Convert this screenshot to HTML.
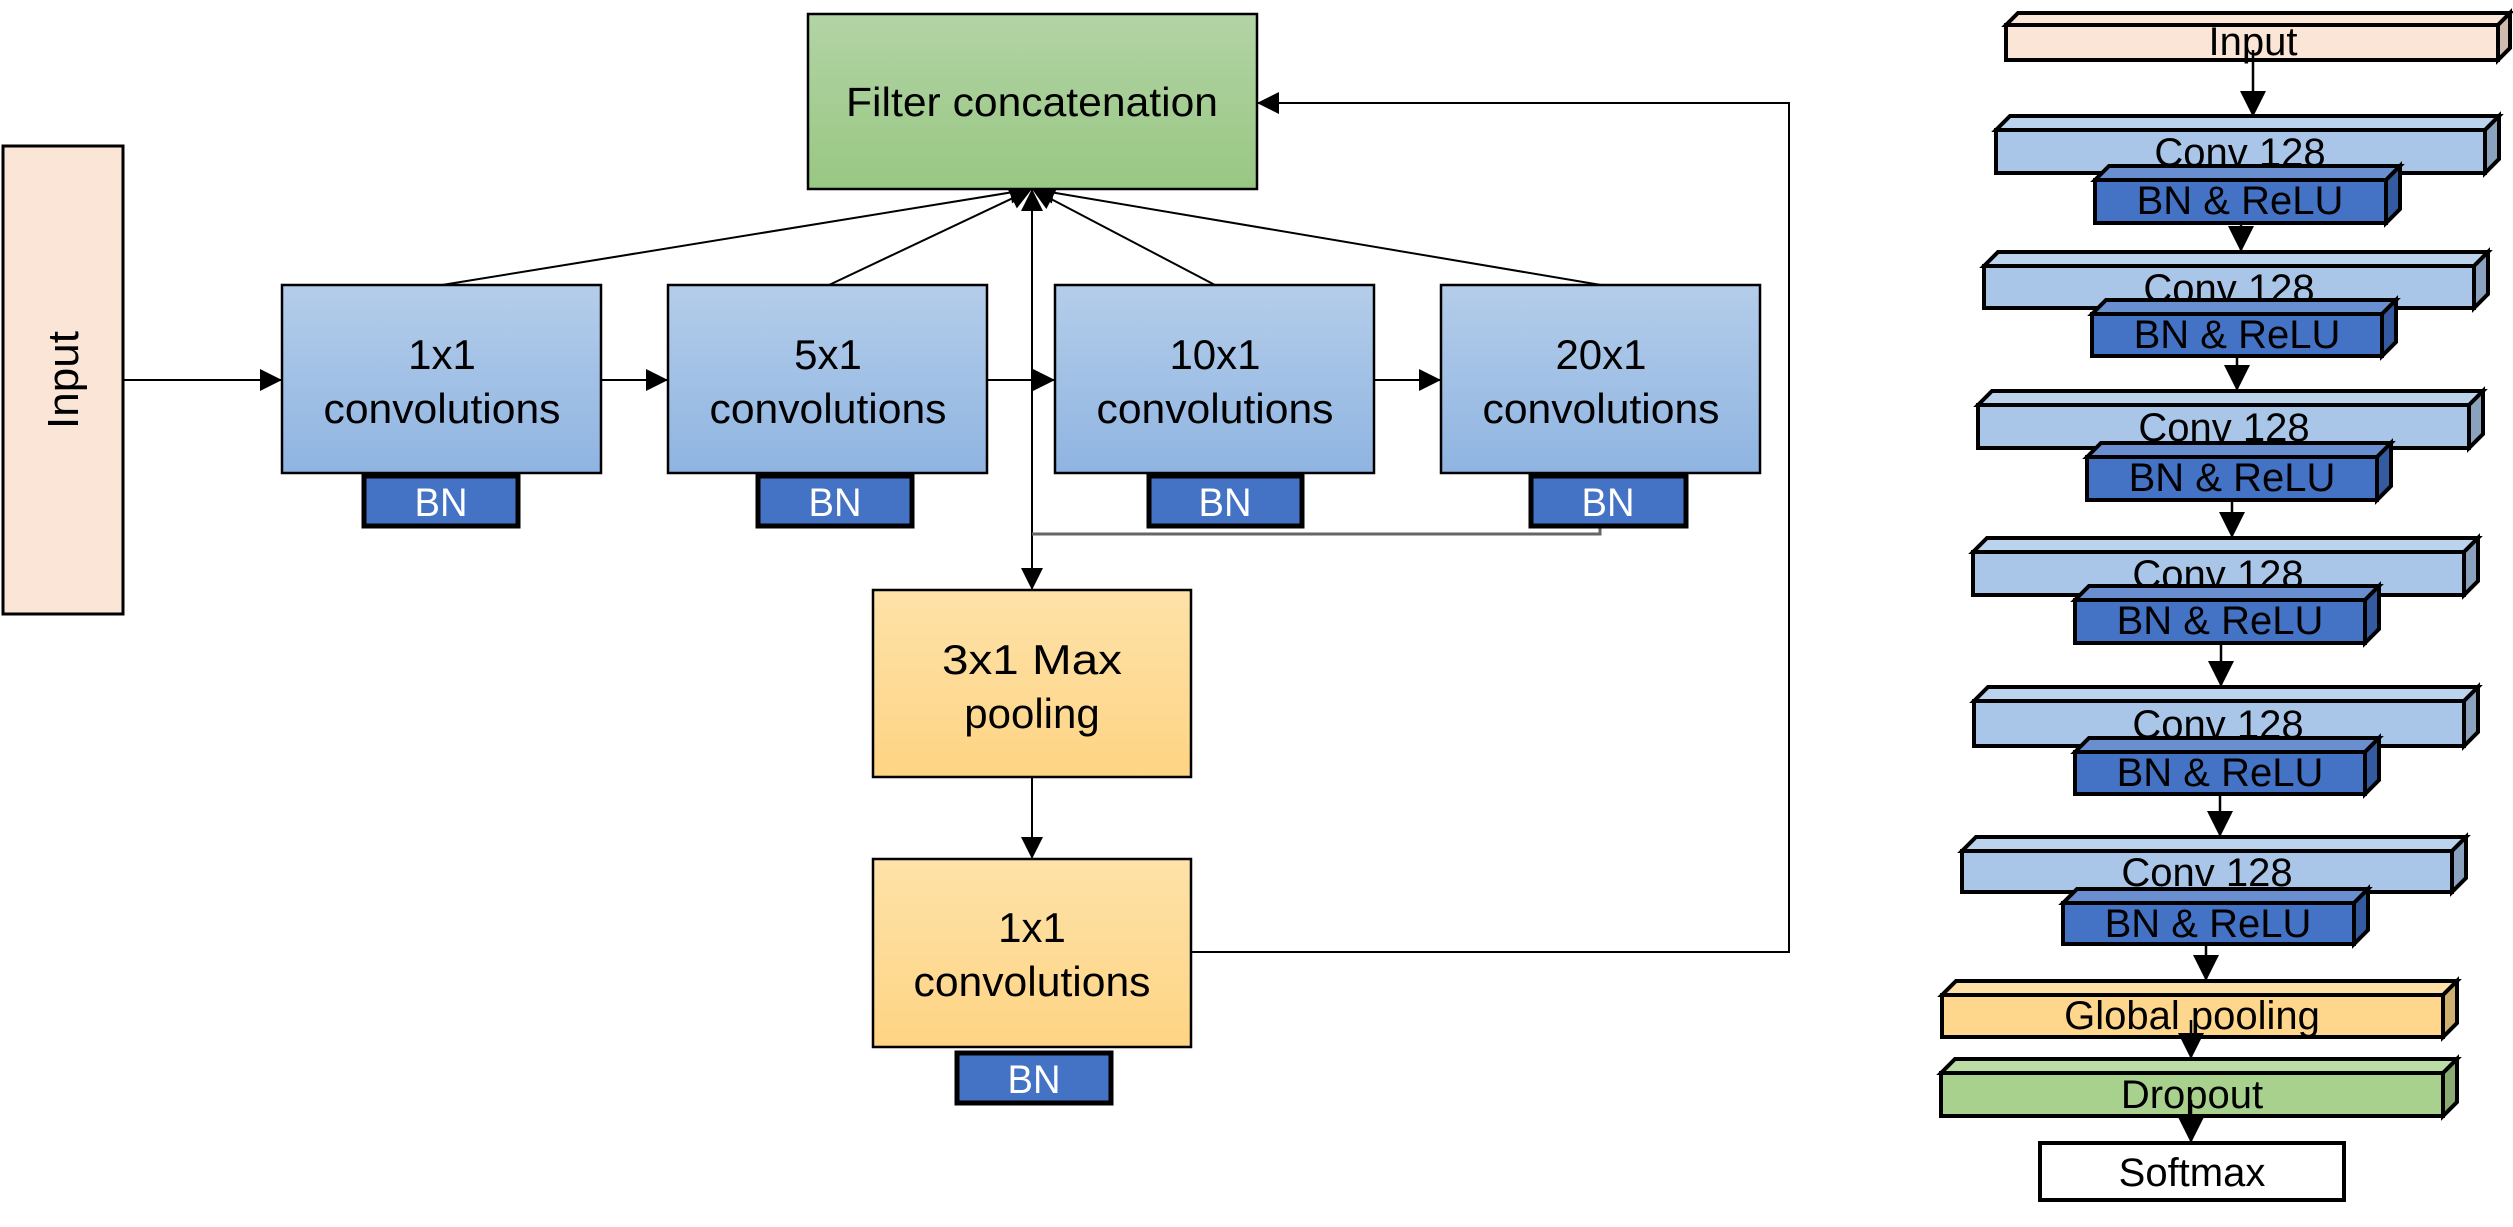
<!DOCTYPE html>
<html><head><meta charset="utf-8"><style>
html,body{margin:0;padding:0;background:#fff;}
svg{display:block;font-family:"Liberation Sans",sans-serif;}
</style></head><body>
<svg width="2513" height="1227" viewBox="0 0 2513 1227" xmlns="http://www.w3.org/2000/svg">
<defs>
<linearGradient id="gB" x1="0" y1="0" x2="0" y2="1"><stop offset="0" stop-color="#b4cdea"/><stop offset="1" stop-color="#8fb4e1"/></linearGradient>
<linearGradient id="gG" x1="0" y1="0" x2="0" y2="1"><stop offset="0" stop-color="#b3d4a5"/><stop offset="1" stop-color="#98c783"/></linearGradient>
<linearGradient id="gO" x1="0" y1="0" x2="0" y2="1"><stop offset="0" stop-color="#fee2a8"/><stop offset="1" stop-color="#fed484"/></linearGradient>
<marker id="a" viewBox="0 0 10 10" refX="10" refY="5" markerWidth="26" markerHeight="22" markerUnits="userSpaceOnUse" orient="auto"><path d="M0,0L10,5L0,10z" fill="#000"/></marker>
<marker id="b" viewBox="0 0 10 10" refX="10" refY="5" markerWidth="26" markerHeight="26" markerUnits="userSpaceOnUse" orient="auto"><path d="M0,0L10,5L0,10z" fill="#000"/></marker>
</defs>

<g stroke="#000" stroke-width="2">
<line x1="123" y1="380" x2="282" y2="380" marker-end="url(#a)"/>
<line x1="601" y1="380" x2="668" y2="380" marker-end="url(#a)"/>
<line x1="987" y1="380" x2="1055" y2="380" marker-end="url(#a)"/>
<line x1="1374" y1="380" x2="1441" y2="380" marker-end="url(#a)"/>
<line x1="442" y1="285" x2="1032" y2="189" marker-end="url(#a)"/>
<line x1="829" y1="285" x2="1032" y2="189" marker-end="url(#a)"/>
<line x1="1215" y1="285" x2="1032" y2="189" marker-end="url(#a)"/>
<line x1="1601" y1="285" x2="1032" y2="189" marker-end="url(#a)"/>
<line x1="1032" y1="380" x2="1032" y2="189" marker-end="url(#a)"/>
<line x1="1032" y1="380" x2="1032" y2="590" marker-end="url(#a)"/>
<polyline points="1600,526 1600,534 1032,534" fill="none" stroke="#666" stroke-width="3"/>
<line x1="1032" y1="777" x2="1032" y2="859" marker-end="url(#a)"/>
<polyline points="1191,952 1789,952 1789,103 1257,103" fill="none" marker-end="url(#a)"/>
</g>

<rect x="3" y="146" width="120" height="468" fill="#fae5d6" stroke="#000" stroke-width="3"/>
<text transform="translate(78,380) rotate(-90)" text-anchor="middle" font-size="44">Input</text>

<rect x="808" y="14" width="449" height="175" fill="url(#gG)" stroke="#000" stroke-width="2.5"/>
<text x="1032" y="116" text-anchor="middle" font-size="41" textLength="372" lengthAdjust="spacingAndGlyphs">Filter concatenation</text>

<g stroke="#000" stroke-width="2.5" fill="url(#gB)">
<rect x="282" y="285" width="319" height="188"/>
<rect x="668" y="285" width="319" height="188"/>
<rect x="1055" y="285" width="319" height="188"/>
<rect x="1441" y="285" width="319" height="188"/>
</g>
<g font-size="42" text-anchor="middle">
<text x="442" y="369">1x1</text><text x="442" y="423" textLength="237" lengthAdjust="spacingAndGlyphs">convolutions</text>
<text x="828" y="369">5x1</text><text x="828" y="423" textLength="237" lengthAdjust="spacingAndGlyphs">convolutions</text>
<text x="1215" y="369">10x1</text><text x="1215" y="423" textLength="237" lengthAdjust="spacingAndGlyphs">convolutions</text>
<text x="1601" y="369">20x1</text><text x="1601" y="423" textLength="237" lengthAdjust="spacingAndGlyphs">convolutions</text>
</g>

<g stroke="#000" stroke-width="5" fill="#4472c4">
<rect x="364" y="476" width="154" height="50"/>
<rect x="758" y="476" width="154" height="50"/>
<rect x="1149" y="476" width="153" height="50"/>
<rect x="1531" y="476" width="155" height="50"/>
<rect x="957" y="1053" width="154" height="50"/>
</g>
<g font-size="40" fill="#fff" text-anchor="middle">
<text x="441" y="516" textLength="53" lengthAdjust="spacingAndGlyphs">BN</text><text x="835" y="516" textLength="53" lengthAdjust="spacingAndGlyphs">BN</text><text x="1225" y="516" textLength="53" lengthAdjust="spacingAndGlyphs">BN</text><text x="1608" y="516" textLength="53" lengthAdjust="spacingAndGlyphs">BN</text><text x="1034" y="1093" textLength="53" lengthAdjust="spacingAndGlyphs">BN</text>
</g>

<g stroke="#000" stroke-width="2.5" fill="url(#gO)">
<rect x="873" y="590" width="318" height="187"/>
<rect x="873" y="859" width="318" height="188"/>
</g>
<g font-size="42" text-anchor="middle">
<text x="1032" y="674" textLength="180" lengthAdjust="spacingAndGlyphs">3x1 Max</text><text x="1032" y="728">pooling</text>
<text x="1032" y="942">1x1</text><text x="1032" y="996" textLength="237" lengthAdjust="spacingAndGlyphs">convolutions</text>
</g>

<!-- RIGHT STACK -->
<g stroke="#000" stroke-width="4">
<rect x="2006" y="25" width="492" height="35" fill="#fbe5d6"/>
<polygon points="2006,25 2018,13 2510,13 2498,25" fill="#fbe5d6"/>
<polygon points="2498,25 2510,13 2510,48 2498,60" fill="#cfbcaf"/>
</g>
<text x="2253" y="55" text-anchor="middle" font-size="40">Input</text>
<line x1="2253" y1="50" x2="2253" y2="117" stroke="#000" stroke-width="2.5" marker-end="url(#b)"/>

<g>
<g stroke="#000" stroke-width="4">
<rect x="1996" y="130" width="489" height="43" fill="#a9c6e8"/>
<polygon points="1996,130 2010,116 2499,116 2485,130" fill="#bcd3ee"/>
<polygon points="2485,130 2499,116 2499,159 2485,173" fill="#8aa2be"/>
</g>
<text x="2240" y="166" text-anchor="middle" font-size="40">Conv 128</text>
<g stroke="#000" stroke-width="4">
<rect x="2095" y="180" width="291" height="43" fill="#4472c4"/>
<polygon points="2095,180 2109,166 2400,166 2386,180" fill="#6a8fd1"/>
<polygon points="2386,180 2400,166 2400,209 2386,223" fill="#345ba0"/>
</g>
<text x="2240" y="214" text-anchor="middle" font-size="40">BN &amp; ReLU</text>
</g>
<line x1="2241" y1="223" x2="2241" y2="252" stroke="#000" stroke-width="2.5" marker-end="url(#b)"/>

<g>
<g stroke="#000" stroke-width="4">
<rect x="1984" y="266" width="490" height="42" fill="#a9c6e8"/>
<polygon points="1984,266 1998,252 2488,252 2474,266" fill="#bcd3ee"/>
<polygon points="2474,266 2488,252 2488,294 2474,308" fill="#8aa2be"/>
</g>
<text x="2229" y="302" text-anchor="middle" font-size="40">Conv 128</text>
<g stroke="#000" stroke-width="4">
<rect x="2092" y="314" width="290" height="42" fill="#4472c4"/>
<polygon points="2092,314 2106,300 2396,300 2382,314" fill="#6a8fd1"/>
<polygon points="2382,314 2396,300 2396,342 2382,356" fill="#345ba0"/>
</g>
<text x="2237" y="348" text-anchor="middle" font-size="40">BN &amp; ReLU</text>
</g>
<line x1="2237" y1="356" x2="2237" y2="391" stroke="#000" stroke-width="2.5" marker-end="url(#b)"/>

<g>
<g stroke="#000" stroke-width="4">
<rect x="1978" y="405" width="491" height="43" fill="#a9c6e8"/>
<polygon points="1978,405 1992,391 2483,391 2469,405" fill="#bcd3ee"/>
<polygon points="2469,405 2483,391 2483,434 2469,448" fill="#8aa2be"/>
</g>
<text x="2224" y="441" text-anchor="middle" font-size="40">Conv 128</text>
<g stroke="#000" stroke-width="4">
<rect x="2087" y="457" width="290" height="43" fill="#4472c4"/>
<polygon points="2087,457 2101,443 2391,443 2377,457" fill="#6a8fd1"/>
<polygon points="2377,457 2391,443 2391,486 2377,500" fill="#345ba0"/>
</g>
<text x="2232" y="491" text-anchor="middle" font-size="40">BN &amp; ReLU</text>
</g>
<line x1="2232" y1="500" x2="2232" y2="538" stroke="#000" stroke-width="2.5" marker-end="url(#b)"/>

<g>
<g stroke="#000" stroke-width="4">
<rect x="1973" y="552" width="491" height="43" fill="#a9c6e8"/>
<polygon points="1973,552 1987,538 2478,538 2464,552" fill="#bcd3ee"/>
<polygon points="2464,552 2478,538 2478,581 2464,595" fill="#8aa2be"/>
</g>
<text x="2218" y="588" text-anchor="middle" font-size="40">Conv 128</text>
<g stroke="#000" stroke-width="4">
<rect x="2075" y="600" width="290" height="43" fill="#4472c4"/>
<polygon points="2075,600 2089,586 2379,586 2365,600" fill="#6a8fd1"/>
<polygon points="2365,600 2379,586 2379,629 2365,643" fill="#345ba0"/>
</g>
<text x="2220" y="634" text-anchor="middle" font-size="40">BN &amp; ReLU</text>
</g>
<line x1="2221" y1="643" x2="2221" y2="687" stroke="#000" stroke-width="2.5" marker-end="url(#b)"/>

<g>
<g stroke="#000" stroke-width="4">
<rect x="1974" y="701" width="490" height="45" fill="#a9c6e8"/>
<polygon points="1974,701 1988,687 2478,687 2464,701" fill="#bcd3ee"/>
<polygon points="2464,701 2478,687 2478,732 2464,746" fill="#8aa2be"/>
</g>
<text x="2218" y="738" text-anchor="middle" font-size="40">Conv 128</text>
<g stroke="#000" stroke-width="4">
<rect x="2075" y="752" width="290" height="42" fill="#4472c4"/>
<polygon points="2075,752 2089,738 2379,738 2365,752" fill="#6a8fd1"/>
<polygon points="2365,752 2379,738 2379,780 2365,794" fill="#345ba0"/>
</g>
<text x="2220" y="786" text-anchor="middle" font-size="40">BN &amp; ReLU</text>
</g>
<line x1="2220" y1="794" x2="2220" y2="837" stroke="#000" stroke-width="2.5" marker-end="url(#b)"/>

<g>
<g stroke="#000" stroke-width="4">
<rect x="1962" y="851" width="490" height="41" fill="#a9c6e8"/>
<polygon points="1962,851 1976,837 2466,837 2452,851" fill="#bcd3ee"/>
<polygon points="2452,851 2466,837 2466,878 2452,892" fill="#8aa2be"/>
</g>
<text x="2207" y="886" text-anchor="middle" font-size="40">Conv 128</text>
<g stroke="#000" stroke-width="4">
<rect x="2063" y="903" width="291" height="41" fill="#4472c4"/>
<polygon points="2063,903 2077,889 2368,889 2354,903" fill="#6a8fd1"/>
<polygon points="2354,903 2368,889 2368,930 2354,944" fill="#345ba0"/>
</g>
<text x="2208" y="937" text-anchor="middle" font-size="40">BN &amp; ReLU</text>
</g>
<line x1="2206" y1="944" x2="2206" y2="981" stroke="#000" stroke-width="2.5" marker-end="url(#b)"/>

<g stroke="#000" stroke-width="4">
<rect x="1942" y="995" width="501" height="42" fill="#ffd78c"/>
<polygon points="1942,995 1956,981 2457,981 2443,995" fill="#ffe0a6"/>
<polygon points="2443,995 2457,981 2457,1023 2443,1037" fill="#d0b070"/>
</g>
<text x="2192" y="1029" text-anchor="middle" font-size="40">Global pooling</text>
<line x1="2191" y1="1020" x2="2191" y2="1059" stroke="#000" stroke-width="2.5" marker-end="url(#b)"/>

<g stroke="#000" stroke-width="4">
<rect x="1941" y="1073" width="502" height="43" fill="#a9d18e"/>
<polygon points="1941,1073 1955,1059 2457,1059 2443,1073" fill="#bcdca6"/>
<polygon points="2443,1073 2457,1059 2457,1102 2443,1116" fill="#8aab74"/>
</g>
<text x="2192" y="1108" text-anchor="middle" font-size="40">Dropout</text>
<line x1="2191" y1="1100" x2="2191" y2="1143" stroke="#000" stroke-width="2.5" marker-end="url(#b)"/>

<rect x="2040" y="1143" width="304" height="57" fill="#fff" stroke="#000" stroke-width="4"/>
<text x="2192" y="1186" text-anchor="middle" font-size="40">Softmax</text>
</svg>
</body></html>
